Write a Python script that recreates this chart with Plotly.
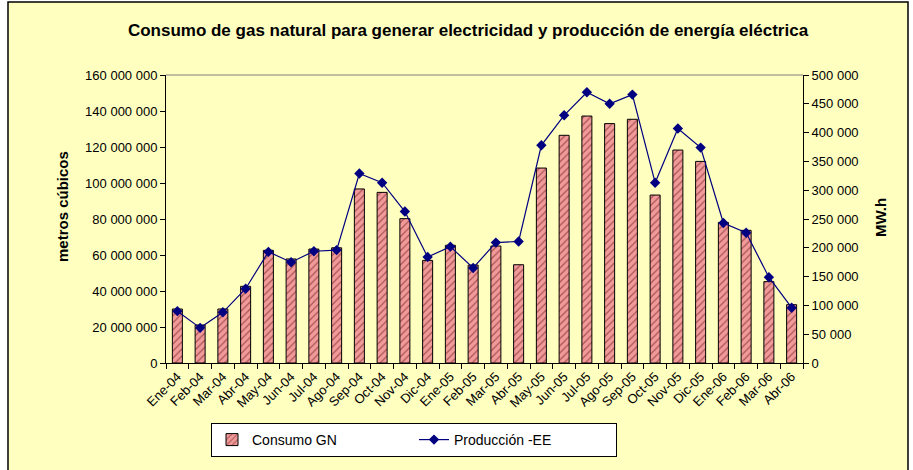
import plotly.graph_objects as go

months = ["Ene-04", "Feb-04", "Mar-04", "Abr-04", "May-04", "Jun-04", "Jul-04", "Ago-04",
          "Sep-04", "Oct-04", "Nov-04", "Dic-04", "Ene-05", "Feb-05", "Mar-05", "Abr-05",
          "May-05", "Jun-05", "Jul-05", "Ago-05", "Sep-05", "Oct-05", "Nov-05", "Dic-05",
          "Ene-06", "Feb-06", "Mar-06", "Abr-06"]

consumo_gn = [30.0e6, 21.1e6, 30.0e6, 42.6e6, 62.6e6, 57.8e6, 63.3e6, 64.0e6,
              96.7e6, 94.8e6, 80.2e6, 57.0e6, 65.4e6, 54.4e6, 65.0e6, 54.6e6,
              108.3e6, 126.5e6, 137.2e6, 133.0e6, 135.4e6, 93.3e6, 118.3e6, 112.0e6,
              78.1e6, 73.7e6, 45.2e6, 32.4e6]

produccion_ee = [90000, 61000, 88000, 129000, 193000, 175000, 194000, 196000,
                 329000, 313000, 263000, 184000, 202000, 165000, 209000, 211000,
                 378000, 430000, 470000, 450000, 466000, 313000, 407000, 374000,
                 243000, 226000, 149000, 96000]

left_ticks = [0, 20e6, 40e6, 60e6, 80e6, 100e6, 120e6, 140e6, 160e6]
left_labels = ["0", "20 000 000", "40 000 000", "60 000 000", "80 000 000",
               "100 000 000", "120 000 000", "140 000 000", "160 000 000"]
right_ticks = [0, 50000, 100000, 150000, 200000, 250000, 300000, 350000, 400000, 450000, 500000]
right_labels = ["0", "50 000", "100 000", "150 000", "200 000", "250 000", "300 000",
                "350 000", "400 000", "450 000", "500 000"]

FONT = "Arial, 'Liberation Sans', sans-serif"
W, H = 913, 470
L, R, T, B = 166, 803, 75, 363

def px_x(px):
    return (px - L) / (R - L)

def px_y(py):
    return (B - py) / (B - T)

fig = go.Figure()

fig.add_trace(go.Bar(
    x=months, y=consumo_gn, name="Consumo GN", yaxis="y",
    width=0.44,
    marker=dict(color="#EE8E8E",
                line=dict(color="#000000", width=1),
                pattern=dict(shape="/", bgcolor="#F29A9A", fgcolor="#A85454",
                             size=5, solidity=0.25, fillmode="replace")),
))

fig.add_trace(go.Scatter(
    x=months, y=produccion_ee, name="Producción -EE", yaxis="y2",
    mode="lines+markers",
    line=dict(color="#000080", width=1.2),
    marker=dict(symbol="diamond", size=8, color="#000080"),
))

fig.update_layout(
    width=W, height=H,
    margin=dict(l=L, r=W - R, t=T, b=H - B),
    paper_bgcolor="#FFFFFF",
    plot_bgcolor="#FFFFFF",
    font=dict(family=FONT, size=13, color="#000000"),
    showlegend=True,
    bargap=0.56,
    title=dict(text="<b>Consumo de gas natural para generar electricidad y producción de energía eléctrica</b>",
               x=468 / W, xanchor="center", y=1 - 30 / H, yanchor="middle", yref="container",
               font=dict(family=FONT, size=17, color="#000000")),
    xaxis=dict(type="category", tickangle=-45, showgrid=False, zeroline=False,
               showline=True, linecolor="#000000", linewidth=1,
               ticks="outside", tickson="boundaries", ticklen=5, tickcolor="#000000",
               tickfont=dict(family=FONT, size=13), range=[-0.5, 27.5]),
    yaxis=dict(range=[0, 160e6], tickvals=left_ticks, ticktext=left_labels,
               showgrid=False, zeroline=False, showline=True, linecolor="#000000",
               linewidth=1, ticks="outside", ticklen=5, tickcolor="#000000",
               tickfont=dict(family=FONT, size=13)),
    yaxis2=dict(range=[0, 500000], tickvals=right_ticks, ticktext=right_labels,
                overlaying="y", side="right", showgrid=False, zeroline=False,
                showline=True, linecolor="#000000", linewidth=1,
                ticks="outside", ticklen=5, tickcolor="#000000",
                tickfont=dict(family=FONT, size=13)),
    legend=dict(orientation="h", x=px_x(211), y=px_y(423), xanchor="left", yanchor="top",
                bgcolor="#FFFFFF", bordercolor="#000000", borderwidth=1,
                font=dict(family=FONT, size=14), entrywidth=157, entrywidthmode="pixels",
                itemwidth=30, traceorder="normal"),
    shapes=[
        dict(type="rect", xref="paper", yref="paper",
             x0=px_x(8), x1=px_x(908), y0=px_y(480), y1=px_y(2),
             fillcolor="#FFFFC0", line=dict(color="#000000", width=1.5), layer="below"),
        dict(type="line", xref="paper", yref="paper", x0=0, x1=1, y0=1, y1=1,
             line=dict(color="#808080", width=1)),
    ],
    annotations=[
        dict(text="<b>metros cúbicos</b>", xref="paper", yref="paper",
             x=px_x(62), y=px_y(207), textangle=-90, showarrow=False,
             xanchor="center", yanchor="middle", font=dict(family=FONT, size=15)),
        dict(text="<b>MW.h</b>", xref="paper", yref="paper",
             x=px_x(880), y=px_y(218), textangle=-90, showarrow=False,
             xanchor="center", yanchor="middle", font=dict(family=FONT, size=15)),
    ],
)

fig.write_html("out.html", config={"displayModeBar": False},
               post_script="document.body.style.margin='0';document.body.style.padding='0';")
